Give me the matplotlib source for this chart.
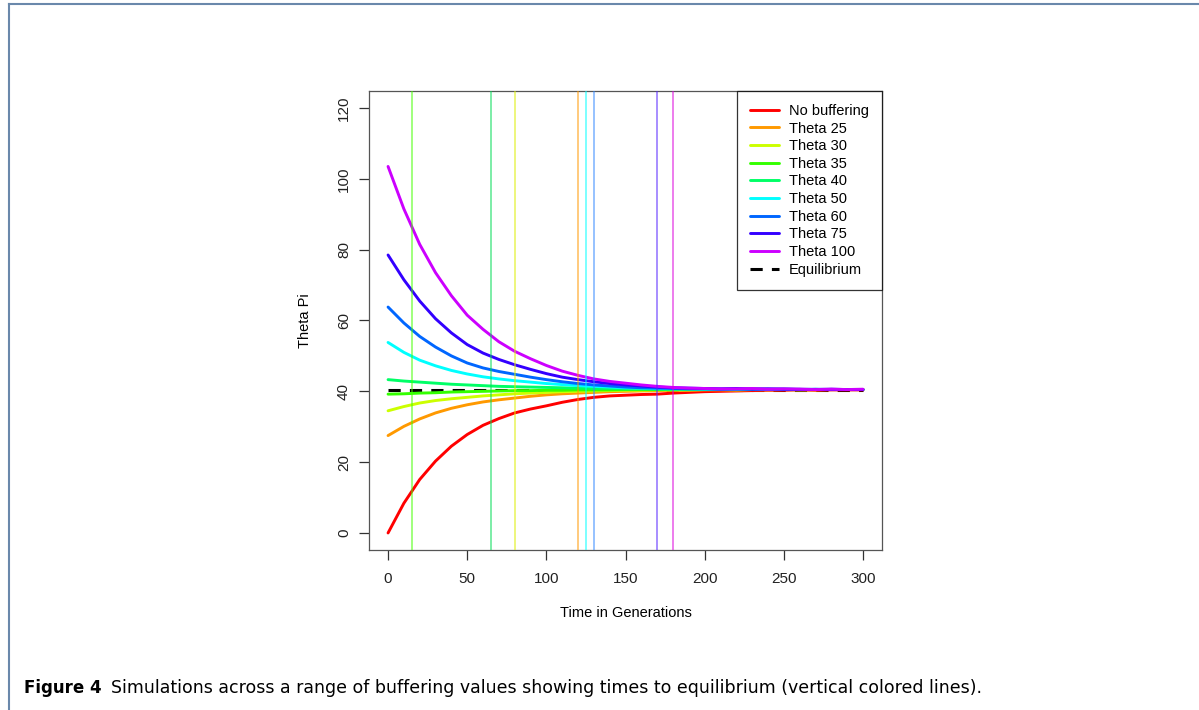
import matplotlib
matplotlib.use("Agg")
import matplotlib.pyplot as plt
from matplotlib.lines import Line2D

# generations sampled every 10
gens = list(range(0, 310, 10))

no_buffering = [0.0, 8.4, 15.1, 20.3, 24.5, 27.8, 30.4, 32.3, 33.9, 35.0, 35.9, 36.9, 37.7, 38.3, 38.7, 38.9,
                39.1, 39.2, 39.5, 39.7, 39.9, 40.0, 40.1, 40.2, 40.3, 40.3, 40.4, 40.3, 40.4, 40.4, 40.4]
theta25 = [27.5, 30.1, 32.2, 33.9, 35.2, 36.2, 37.0, 37.6, 38.1, 38.6, 39.0, 39.3, 39.5, 39.7, 39.9, 40.0,
           40.1, 40.2, 40.3, 40.3, 40.4, 40.4, 40.4, 40.5, 40.4, 40.5, 40.5, 40.4, 40.5, 40.5, 40.5]
theta30 = [34.5, 35.7, 36.7, 37.4, 37.9, 38.3, 38.7, 39.0, 39.3, 39.5, 39.7, 39.9, 40.0, 40.1, 40.2, 40.3,
           40.3, 40.4, 40.4, 40.4, 40.5, 40.5, 40.4, 40.5, 40.5, 40.5, 40.4, 40.5, 40.5, 40.5, 40.5]
theta35 = [39.2, 39.3, 39.5, 39.6, 39.8, 39.9, 40.0, 40.1, 40.2, 40.2, 40.3, 40.3, 40.4, 40.4, 40.4, 40.5,
           40.5, 40.5, 40.5, 40.5, 40.5, 40.5, 40.5, 40.5, 40.5, 40.5, 40.5, 40.5, 40.5, 40.5, 40.5]
theta40 = [43.3, 42.9, 42.6, 42.3, 42.0, 41.8, 41.6, 41.4, 41.3, 41.2, 41.1, 41.0, 40.9, 40.8, 40.8, 40.7,
           40.7, 40.6, 40.6, 40.6, 40.6, 40.5, 40.6, 40.5, 40.5, 40.5, 40.5, 40.5, 40.5, 40.5, 40.5]
theta50 = [53.8, 51.0, 48.8, 47.2, 45.9, 44.9, 44.1, 43.5, 43.0, 42.6, 42.2, 41.9, 41.6, 41.4, 41.2, 41.0,
           40.9, 40.8, 40.7, 40.7, 40.6, 40.6, 40.6, 40.6, 40.5, 40.6, 40.5, 40.5, 40.5, 40.5, 40.5]
theta60 = [63.8, 59.3, 55.5, 52.5, 50.0, 48.0, 46.6, 45.6, 44.8, 44.0, 43.3, 42.7, 42.2, 41.8, 41.5, 41.2,
           41.0, 40.9, 40.8, 40.7, 40.7, 40.6, 40.6, 40.7, 40.6, 40.6, 40.5, 40.6, 40.5, 40.5, 40.5]
theta75 = [78.5, 71.5, 65.5, 60.5, 56.5, 53.2, 50.8, 49.0, 47.5, 46.2, 45.0, 44.0, 43.3, 42.7, 42.2, 41.8,
           41.5, 41.2, 41.0, 40.9, 40.8, 40.7, 40.8, 40.6, 40.7, 40.6, 40.6, 40.5, 40.6, 40.5, 40.5]
theta100 = [103.5, 91.5, 81.5, 73.5, 67.0, 61.5, 57.5, 54.0, 51.3, 49.2, 47.3, 45.7, 44.5, 43.5, 42.8, 42.3,
            41.8, 41.4, 41.1, 40.9, 40.8, 40.7, 40.7, 40.8, 40.6, 40.7, 40.6, 40.5, 40.6, 40.5, 40.6]
equilibrium = 40.5

labels = ["No buffering", "Theta 25", "Theta 30", "Theta 35", "Theta 40",
          "Theta 50", "Theta 60", "Theta 75", "Theta 100"]
series = [no_buffering, theta25, theta30, theta35, theta40, theta50, theta60, theta75, theta100]
colors = ["#FF0000", "#FF9900", "#CCFF00", "#33FF00", "#00FF66",
          "#00FFFF", "#0066FF", "#3300FF", "#CC00FF"]

# times to equilibrium (vertical lines)
eq_times = [15, 65, 80, 120, 125, 130, 170, 180]
eq_colors = ["#44FF00", "#00DD55", "#DDEE00", "#FF9900", "#00FFFF", "#3388FF", "#5522FF", "#DD00DD"]

plt.rcParams['font.family'] = ['Liberation Sans', 'DejaVu Sans']

fig = plt.figure(figsize=(11.99, 7.10), dpi=100)
ax = fig.add_axes([0.3078, 0.2254, 0.4278, 0.6464])

for vals, c, lab in zip(series, colors, labels):
    ax.plot(gens, vals, color=c, lw=2.1, label=lab, solid_capstyle='round')
ax.plot([0, 300], [equilibrium, equilibrium], color='black', lw=2.2,
        dashes=(4, 3), label="Equilibrium", zorder=1)

for t, c in zip(eq_times, eq_colors):
    ax.axvline(t, color=c, lw=1.2, alpha=0.6, zorder=5)

ax.set_xlim(-12, 312)
ax.set_ylim(-4.8, 124.8)
ax.set_xticks([0, 50, 100, 150, 200, 250, 300])
ax.set_yticks([0, 20, 40, 60, 80, 100, 120])
ax.tick_params(direction='out', length=7, width=0.9, labelsize=11, colors='#333333',
               labelcolor='#222222', pad=6)
ax.tick_params(axis='x', pad=9)
for lbl in ax.get_yticklabels():
    lbl.set_rotation(90)
    lbl.set_va('center')
for s in ax.spines.values():
    s.set_color('#555555')
    s.set_linewidth(0.9)

ax.set_xlabel("Time in Generations", fontsize=10.5, labelpad=14)
ax.set_ylabel("Theta Pi", fontsize=10.5, labelpad=18)

leg = ax.legend(loc='upper right', fontsize=10.5, frameon=True, fancybox=False,
                borderaxespad=0, handlelength=2.0, labelspacing=0.25,
                handletextpad=0.7, borderpad=0.88)
leg.get_frame().set_edgecolor('black')
leg.get_frame().set_linewidth(0.9)

# page frame
fig.add_artist(Line2D([9 / 1199, 9 / 1199], [0, 1 - 4 / 710], color='#6a88ab', lw=1.5))
fig.add_artist(Line2D([9 / 1199, 1], [1 - 4 / 710, 1 - 4 / 710], color='#6a88ab', lw=1.5))

# caption
t1 = fig.text(24 / 1199, 1 - 688 / 710, "Figure 4", fontsize=12, fontweight='bold',
              family=['DejaVu Sans'], va='center')
fig.canvas.draw()
bb = t1.get_window_extent()
fig.text((bb.x1 + 9) / 1199, 1 - 688 / 710,
         "Simulations across a range of buffering values showing times to equilibrium (vertical colored lines).",
         fontsize=12.5, family=['DejaVu Sans'], va='center')

fig.savefig("out.png", dpi=100)
